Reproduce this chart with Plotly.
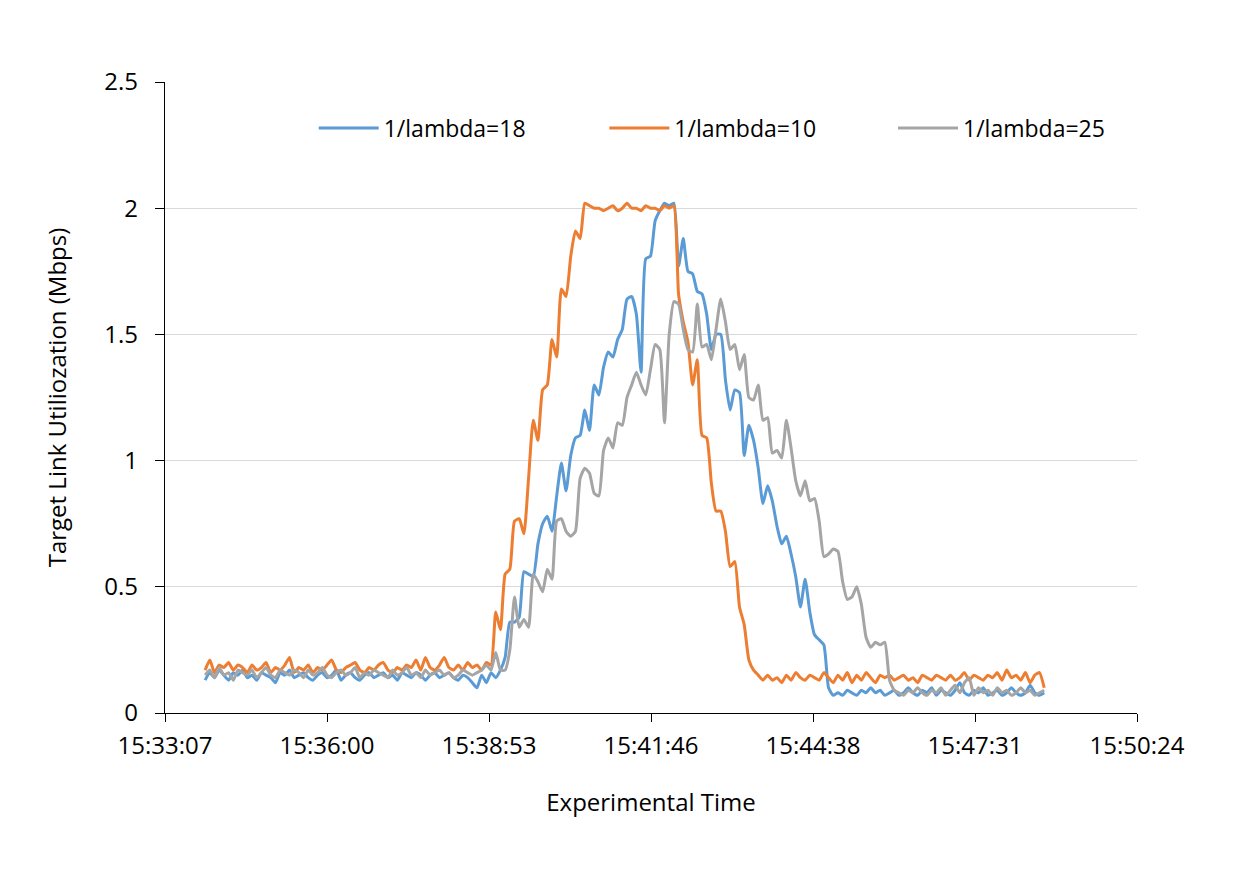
import pandas as pd
import plotly.graph_objects as go

# ---------------- data ----------------
series_names = ["1/lambda=18", "1/lambda=10", "1/lambda=25"]
series_colors = ["#5B9BD5", "#ED7D31", "#A5A5A5"]

start_time = "2024-01-01 15:33:50"
sample_step = "5s"

util_lambda18 = [
    0.13, 0.16, 0.14, 0.17, 0.15, 0.13, 0.16, 0.15, 0.17, 0.14,
    0.15, 0.13, 0.16, 0.15, 0.14, 0.12, 0.16, 0.15, 0.17, 0.14,
    0.15, 0.16, 0.14, 0.13, 0.15, 0.16, 0.14, 0.15, 0.17, 0.13,
    0.15, 0.16, 0.14, 0.13, 0.15, 0.16, 0.14, 0.15, 0.16, 0.14,
    0.15, 0.13, 0.16, 0.15, 0.14, 0.16, 0.15, 0.13, 0.15, 0.16,
    0.14, 0.15, 0.16, 0.14, 0.13, 0.15, 0.14, 0.12, 0.10, 0.15,
    0.12,
    0.16, 0.14, 0.17, 0.22, 0.36, 0.36, 0.38, 0.56, 0.55, 0.54,
    0.67, 0.75, 0.78, 0.72, 0.86, 0.99, 0.88, 1.02, 1.09, 1.10,
    1.20, 1.12, 1.30, 1.26, 1.37, 1.43, 1.41, 1.48, 1.52, 1.64,
    1.65, 1.58, 1.35, 1.80, 1.81, 1.95, 1.99, 2.02, 2.01, 2.02,
    1.77, 1.88, 1.75, 1.74, 1.67, 1.66, 1.58, 1.44, 1.50, 1.50,
    1.32, 1.20, 1.28, 1.27, 1.02, 1.14, 1.08, 0.97, 0.83, 0.90,
    0.84, 0.74, 0.67, 0.70, 0.63, 0.54, 0.42, 0.53, 0.40, 0.31,
    0.29, 0.27, 0.10,
    0.07, 0.08, 0.07, 0.09, 0.08, 0.07, 0.09, 0.08, 0.10, 0.08,
    0.09, 0.07, 0.08, 0.09, 0.07, 0.08, 0.10, 0.08, 0.07, 0.09,
    0.08, 0.10, 0.07, 0.09, 0.08, 0.07, 0.09, 0.12, 0.08, 0.07,
    0.09, 0.08, 0.10, 0.07, 0.08, 0.09, 0.07, 0.08, 0.10, 0.08,
    0.07, 0.08, 0.11, 0.08, 0.07, 0.08,
]

util_lambda10 = [
    0.17, 0.21, 0.16, 0.19, 0.18, 0.20, 0.17, 0.19, 0.18, 0.16,
    0.19, 0.17, 0.18, 0.20, 0.16, 0.18, 0.17, 0.19, 0.22, 0.16,
    0.18, 0.17, 0.19, 0.16, 0.18, 0.17, 0.19, 0.21, 0.17, 0.16,
    0.18, 0.19, 0.20, 0.17, 0.16, 0.18, 0.17, 0.19, 0.20, 0.17,
    0.16, 0.18, 0.17, 0.19, 0.18, 0.21, 0.17, 0.22, 0.18, 0.17,
    0.19, 0.22, 0.18, 0.17, 0.19, 0.17, 0.20, 0.18, 0.19, 0.17,
    0.20,
    0.19, 0.40, 0.33, 0.55, 0.57, 0.76, 0.77, 0.71, 0.93, 1.16,
    1.08, 1.28, 1.30, 1.48, 1.41, 1.68, 1.65, 1.81, 1.91, 1.88,
    2.02,
    2.01, 2.00, 2.00, 1.99, 2.00, 2.01, 1.99, 2.00, 2.02, 2.00,
    2.00, 1.99, 2.01, 2.00, 2.00, 1.99, 2.01, 2.00,
    2.01, 1.66, 1.55, 1.47, 1.30, 1.40, 1.10, 1.09, 0.91, 0.80,
    0.80, 0.72, 0.58, 0.60, 0.42, 0.35, 0.21, 0.17, 0.15,
    0.13, 0.15, 0.13, 0.14, 0.12, 0.15, 0.13, 0.16, 0.14, 0.13,
    0.15, 0.14, 0.13, 0.16, 0.14, 0.12, 0.15, 0.13, 0.16, 0.12,
    0.15, 0.13, 0.16, 0.14, 0.12, 0.15, 0.14, 0.15, 0.13, 0.14,
    0.15, 0.13, 0.14, 0.12, 0.15, 0.14, 0.13, 0.15, 0.14, 0.13,
    0.15, 0.13, 0.14, 0.16, 0.13, 0.15, 0.14, 0.13, 0.15, 0.14,
    0.16, 0.13, 0.17, 0.14, 0.15, 0.13, 0.16, 0.12, 0.15, 0.16,
    0.10,
]

util_lambda25 = [
    0.15, 0.17, 0.14, 0.18, 0.15, 0.16, 0.13, 0.17, 0.16, 0.15,
    0.17, 0.14, 0.16, 0.18, 0.15, 0.14, 0.17, 0.16, 0.15, 0.17,
    0.16, 0.14, 0.17, 0.15, 0.16, 0.18, 0.15, 0.14, 0.16, 0.17,
    0.15, 0.16, 0.18, 0.14, 0.16, 0.15, 0.17, 0.16, 0.15, 0.14,
    0.17, 0.15, 0.16, 0.18, 0.15, 0.16, 0.14, 0.17, 0.15, 0.16,
    0.17, 0.15, 0.16, 0.14, 0.15, 0.17, 0.16, 0.15, 0.16, 0.17,
    0.19,
    0.17, 0.24, 0.17, 0.17, 0.25, 0.46, 0.34, 0.37, 0.34, 0.55,
    0.52, 0.48, 0.57, 0.53, 0.76, 0.77, 0.72, 0.70, 0.72, 0.93,
    0.97, 0.95, 0.87, 0.86, 1.04, 1.09, 1.05, 1.15, 1.14, 1.25,
    1.30, 1.35, 1.30, 1.26, 1.36, 1.46, 1.44, 1.15, 1.50, 1.63,
    1.62, 1.52, 1.44, 1.43, 1.62, 1.45, 1.46, 1.40, 1.52, 1.64,
    1.55, 1.44, 1.46, 1.36, 1.42, 1.25, 1.24, 1.30, 1.16, 1.17,
    1.03, 1.04, 1.01, 1.16, 1.05, 0.92, 0.86, 0.92, 0.84, 0.85,
    0.76, 0.62, 0.63, 0.65, 0.64, 0.52, 0.45, 0.46, 0.50, 0.43,
    0.30, 0.26, 0.28, 0.27, 0.28, 0.13, 0.09,
    0.08, 0.07, 0.09, 0.08, 0.10, 0.08, 0.07, 0.09, 0.08, 0.10,
    0.07, 0.09, 0.11, 0.08, 0.12, 0.14, 0.07, 0.10, 0.08, 0.09,
    0.07, 0.10, 0.08, 0.09, 0.07, 0.08, 0.10, 0.08, 0.09, 0.07,
    0.08, 0.09,
]

x_range = ["2024-01-01 15:33:07.2", "2024-01-01 15:50:24"]
tick_step_seconds = 172.8
tick_labels = ["15:33:07", "15:36:00", "15:38:53", "15:41:46",
               "15:44:38", "15:47:31", "15:50:24"]
y_tick_values = [0, 0.5, 1, 1.5, 2, 2.5]
y_tick_labels = ["0", "0.5", "1", "1.5", "2", "2.5"]

x_title = "Experimental Time"
y_title = "Target Link Utiliozation (Mbps)"

# ---------------- figure ----------------
FONT = "Open Sans, Liberation Sans, sans-serif"

series_values = [util_lambda18, util_lambda10, util_lambda25]
legend_ids = ["legend", "legend2", "legend3"]
legend_x = [0.153, 0.452, 0.749]

fig = go.Figure()
for name, color, vals, lid in zip(series_names, series_colors, series_values, legend_ids):
    times = pd.date_range(start=start_time, periods=len(vals), freq=sample_step)
    fig.add_trace(go.Scatter(
        x=times, y=vals, name=name, mode="lines", legend=lid,
        line=dict(color=color, width=3, shape="spline", smoothing=0.5),
    ))

t0 = pd.Timestamp(x_range[0])
tick_vals = [t0 + pd.Timedelta(seconds=tick_step_seconds * k) for k in range(len(tick_labels))]

legend_common = dict(
    orientation="h", y=0.927, xanchor="left", yanchor="middle",
    itemwidth=60,
    font=dict(family=FONT, size=23, color="black"),
    bgcolor="rgba(0,0,0,0)",
)

fig.update_layout(
    width=1241, height=874,
    margin=dict(l=165, r=104, t=82, b=161, autoexpand=False),
    paper_bgcolor="white", plot_bgcolor="white",
    font=dict(family=FONT, size=24, color="black"),
    showlegend=True,
    legend=dict(x=legend_x[0], **legend_common),
    legend2=dict(x=legend_x[1], **legend_common),
    legend3=dict(x=legend_x[2], **legend_common),
    xaxis=dict(
        type="date", range=x_range,
        tickmode="array", tickvals=tick_vals, ticktext=tick_labels,
        ticks="outside", ticklen=8, tickwidth=1.3, tickcolor="black",
        showline=True, linecolor="black", linewidth=1.3,
        showgrid=False, zeroline=False,
        ticklabelstandoff=3,
        tickfont=dict(family=FONT, size=24, color="black"),
        title=dict(text=x_title, standoff=34,
                   font=dict(family=FONT, size=24, color="black")),
    ),
    yaxis=dict(
        range=[0, 2.5],
        tickmode="array", tickvals=y_tick_values, ticktext=y_tick_labels,
        ticks="outside", ticklen=9, tickwidth=1.3, tickcolor="black",
        showline=True, linecolor="black", linewidth=1.3,
        showgrid=True, gridcolor="#D9D9D9", gridwidth=1.3, zeroline=False,
        ticklabelstandoff=12,
        tickfont=dict(family=FONT, size=24, color="black"),
        title=dict(text=y_title, standoff=30,
                   font=dict(family=FONT, size=24, color="black")),
    ),
)

fig.write_html("out.html")
